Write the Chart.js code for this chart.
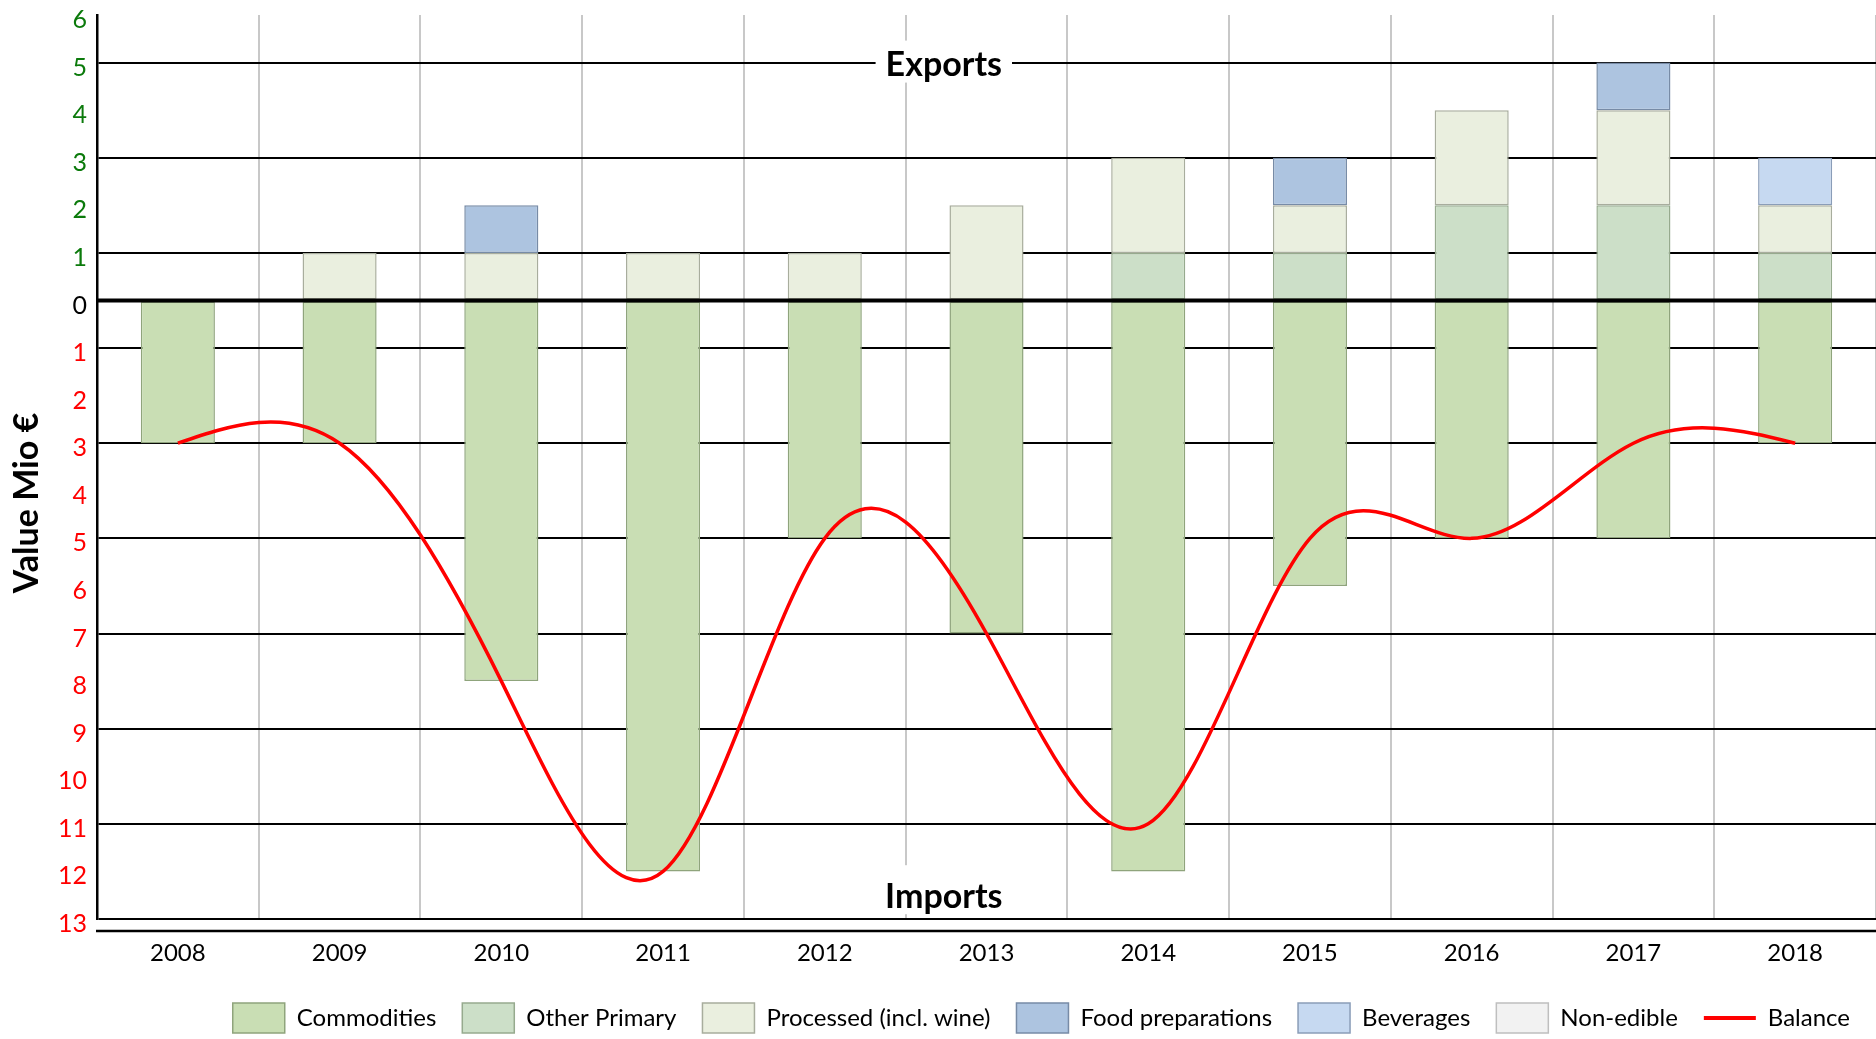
<!DOCTYPE html>
<html><head><meta charset="utf-8">
<script src="https://cdn.jsdelivr.net/npm/chart.js@4.4.1/dist/chart.umd.min.js"></script>
<style>html,body{margin:0;padding:0;background:#fff;overflow:hidden;}</style>
</head><body>
<canvas id="c" width="1876" height="1039"></canvas>
<script>
const years = ['2008','2009','2010','2011','2012','2013','2014','2015','2016','2017','2018'];
const commodities = [-3, -3, -8, -12, -5, -7, -12, -6, -5, -5, -3];
const otherPrimary = [null, null, null, null, null, null, 1, 1, 2, 2, 1];
const processed = [null, 1, 1, 1, 1, 2, 2, 1, 2, 2, 1];
const foodPreparations = [null, null, 1, null, null, null, null, 1, null, 1, null];
const beverages = [null, null, null, null, null, null, null, null, null, null, 1];
const nonEdible = [null, null, null, null, null, null, null, null, null, null, null];
const balance = [-3, -3, -8, -12, -5, -7, -11, -5, -5, -3, -3];
const yMin = -13, yMax = 6;
const yTitle = 'Value Mio €';
const exportsLabel = 'Exports';
const importsLabel = 'Imports';

const FONT = 'Lato, "Open Sans", sans-serif';

function barSet(label, data, bg, border) {
  return { type: 'bar', label, data, backgroundColor: bg, borderColor: border, borderWidth: 1.5,
    stack: 'trade', order: 1, categoryPercentage: 1, barPercentage: 0.458, borderSkipped: false };
}

// Natural cubic spline smoothing: set the library's bezier control points of the line
const naturalSpline = {
  id: 'naturalSpline',
  beforeDatasetDraw(chart, args) {
    const meta = args.meta;
    if (meta.type !== 'line' || !meta.dataset) return;
    meta.dataset.updateControlPoints(chart.chartArea, 'x');
    const pts = meta.data, n = pts.length;
    if (n < 3) return;
    const xs = pts.map(p => p.x), ys = pts.map(p => p.y);
    const h = [];
    for (let i = 0; i < n - 1; i++) h[i] = xs[i + 1] - xs[i];
    const M = new Array(n).fill(0);
    const cp = [], dp = [];
    for (let i = 1; i < n - 1; i++) {
      const a = h[i - 1], b = 2 * (h[i - 1] + h[i]), c = h[i];
      const d = 6 * ((ys[i + 1] - ys[i]) / h[i] - (ys[i] - ys[i - 1]) / h[i - 1]);
      if (i === 1) { cp[i] = c / b; dp[i] = d / b; }
      else {
        const den = b - a * cp[i - 1];
        cp[i] = c / den; dp[i] = (d - a * dp[i - 1]) / den;
      }
    }
    for (let i = n - 2; i >= 1; i--) {
      M[i] = dp[i] - (i < n - 2 ? cp[i] * M[i + 1] : 0);
    }
    const m = [];
    for (let i = 0; i < n - 1; i++) m[i] = (ys[i + 1] - ys[i]) / h[i] - h[i] * (2 * M[i] + M[i + 1]) / 6;
    m[n - 1] = (ys[n - 1] - ys[n - 2]) / h[n - 2] + h[n - 2] * (M[n - 2] + 2 * M[n - 1]) / 6;
    for (let i = 0; i < n; i++) {
      const p = pts[i];
      const hl = i > 0 ? h[i - 1] : 0, hr = i < n - 1 ? h[i] : 0;
      p.cp1x = p.x - hl / 3; p.cp1y = p.y - m[i] * hl / 3;
      p.cp2x = p.x + hr / 3; p.cp2y = p.y + m[i] * hr / 3;
    }
  }
};

const overlay = {
  id: 'overlay',
  afterDatasetsDraw(chart) {
    const { ctx, chartArea: a, scales: { y } } = chart;
    const y0 = y.getPixelForValue(0);
    ctx.save();
    ctx.strokeStyle = '#000'; ctx.lineWidth = 4;
    ctx.beginPath(); ctx.moveTo(a.left, y0); ctx.lineTo(a.right, y0); ctx.stroke();
    ctx.restore();
  },
  afterDraw(chart) {
    const { ctx, chartArea: a, scales: { y } } = chart;
    ctx.save();
    const yx = a.bottom + 12;
    ctx.strokeStyle = '#000'; ctx.lineWidth = 2.5;
    ctx.beginPath(); ctx.moveTo(a.left - 1, yx); ctx.lineTo(chart.width, yx); ctx.stroke();
    const cx = a.left + 0.476 * (a.right - a.left);
    ctx.font = 'bold 34px ' + FONT;
    ctx.textAlign = 'center'; ctx.textBaseline = 'middle';
    const drawLab = (txt, yv, padT, padB) => {
      const py = y.getPixelForValue(yv);
      const w = ctx.measureText(txt).width;
      ctx.fillStyle = '#fff';
      ctx.fillRect(cx - w / 2 - 10, py - padT, w + 20, padT + padB);
      ctx.fillStyle = '#000';
      ctx.fillText(txt, cx, py + 2);
    };
    drawLab(exportsLabel, 5, 22, 20);
    drawLab(importsLabel, -12.5, 30, 19);
    ctx.translate(27, 503);
    ctx.rotate(-Math.PI / 2);
    ctx.font = 'bold 34px ' + FONT;
    ctx.fillStyle = '#000';
    ctx.fillText(yTitle, 0, 0);
    ctx.restore();
    const lg = chart.legend;
    if (lg && lg.legendItems) {
      const idx = lg.legendItems.findIndex(it => it.text === 'Balance');
      const hb = lg.legendHitBoxes[idx];
      if (hb) {
        ctx.save();
        ctx.strokeStyle = '#FF0000'; ctx.lineWidth = 4;
        const ly = hb.top + hb.height / 2;
        ctx.beginPath(); ctx.moveTo(hb.left, ly); ctx.lineTo(hb.left + 52, ly); ctx.stroke();
        ctx.restore();
      }
    }
  }
};

new Chart(document.getElementById('c'), {
  data: {
    labels: years,
    datasets: [
      barSet('Commodities', commodities, '#C9DEB4', '#8FA47C'),
      barSet('Other Primary', otherPrimary, '#CCDFC8', '#96AA8E'),
      barSet('Processed (incl. wine)', processed, '#EAEFDF', '#A8AD9D'),
      barSet('Food preparations', foodPreparations, '#ADC4E0', '#778BA6'),
      barSet('Beverages', beverages, '#C6D9F1', '#8A9DB8'),
      barSet('Non-edible', nonEdible, '#F2F2F2', '#BFBFBF'),
      { type: 'line', label: 'Balance', data: balance, borderColor: '#FF0000', backgroundColor: '#FF0000',
        borderWidth: 3.5, pointRadius: 0, tension: 0.4, capBezierPoints: false, order: 0, fill: false }
    ]
  },
  options: {
    responsive: false,
    devicePixelRatio: 1,
    animation: false,
    layout: { padding: { left: 0, right: 0, top: 15, bottom: -4 } },
    plugins: {
      tooltip: { enabled: false },
      legend: {
        position: 'bottom',
        align: 'end',
        labels: {
          font: { family: FONT, size: 24 },
          color: '#000',
          boxWidth: 52,
          boxHeight: 30,
          padding: 26,
          sort: (a, b) => a.datasetIndex - b.datasetIndex,
          generateLabels(chart) {
            const items = Chart.defaults.plugins.legend.labels.generateLabels(chart);
            items.forEach(it => {
              it.lineWidth = 1.5;
              if (it.text === 'Balance') { it.fillStyle = 'rgba(0,0,0,0)'; it.strokeStyle = 'rgba(0,0,0,0)'; it.lineWidth = 0; }
            });
            return items;
          }
        }
      }
    },
    scales: {
      x: {
        stacked: true,
        offset: true,
        grid: { display: true, offset: true, color: '#C8C8C8', lineWidth: 2, drawTicks: false },
        border: { display: false },
        ticks: { font: { family: FONT, size: 24 }, color: '#000', padding: 20 },
        afterFit(s) { s.height = 58; }
      },
      y: {
        stacked: true,
        min: yMin, max: yMax,
        grid: {
          drawTicks: false,
          color: c => (c.tick && c.tick.value !== 0 && Math.abs(c.tick.value) % 2 === 1 && c.tick.value < yMax) ? '#000' : 'rgba(0,0,0,0)',
          lineWidth: 2
        },
        border: { display: true, color: '#000', width: 2.5 },
        ticks: {
          stepSize: 1,
          padding: 10,
          labelOffset: 5,
          font: { family: FONT, size: 25 },
          color: c => c.tick.value > 0 ? '#0B7A0B' : (c.tick.value < 0 ? '#FF0000' : '#000'),
          callback: v => String(Math.abs(v))
        },
        afterFit(s) { s.width = 97; s.paddingTop = 0; s.paddingBottom = 0; }
      }
    }
  },
  plugins: [naturalSpline, overlay]
});
</script>
</body></html>
